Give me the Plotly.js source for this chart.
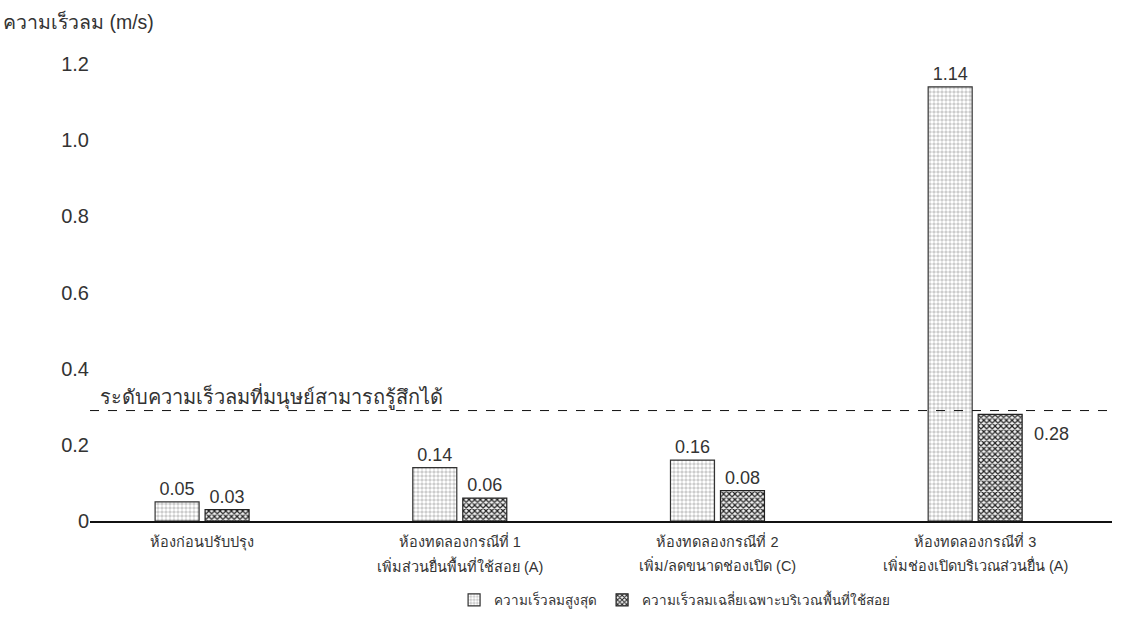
<!DOCTYPE html>
<html>
<head>
<meta charset="utf-8">
<script src="https://cdn.plot.ly/plotly-3.0.1.min.js"></script>
<style>html,body{margin:0;padding:0;background:#fff;}#chart{width:1124px;height:631px;}</style>
</head>
<body>
<div id="chart"></div>
<script>
const categoryLine1 = [
  "ห้องก่อนปรับปรุง",
  "ห้องทดลองกรณีที่ 1",
  "ห้องทดลองกรณีที่ 2",
  "ห้องทดลองกรณีที่ 3"
];
const categoryLine2 = [
  "",
  "เพิ่มส่วนยื่นพื้นที่ใช้สอย (A)",
  "เพิ่ม/ลดขนาดช่องเปิด (C)",
  "เพิ่มช่องเปิดบริเวณส่วนยื่น (A)"
];
const maxSpeed = [0.05, 0.14, 0.16, 1.14];
const avgSpeed = [0.03, 0.06, 0.08, 0.28];
const seriesNames = ["ความเร็วลมสูงสุด", "ความเร็วลมเฉลี่ยเฉพาะบริเวณพื้นที่ใช้สอย"];
const thresholdValue = 0.29;
const thresholdLabel = "ระดับความเร็วลมที่มนุษย์สามารถรู้สึกได้";
const yTickVals = [0, 0.2, 0.4, 0.6, 0.8, 1.0, 1.2];
const yTickText = ["0", "0.2", "0.4", "0.6", "0.8", "1.0", "1.2"];
const yTitle = "ความเร็วลม (m/s)";

const FONT = "Liberation Sans, Arial, Noto Sans, sans-serif";
const idx = categoryLine1.map((c, i) => i);

const trace1 = {
  type: "bar", name: seriesNames[0], x: idx, y: maxSpeed,
  text: maxSpeed.map(v => v.toFixed(2)), textposition: "outside",
  textfont: {size: 18, color: "#333", family: FONT}, cliponaxis: false,
  marker: {color: "#dcdcdc", line: {color: "#333", width: 1.2},
    pattern: {shape: ".", fgcolor: "#ffffff", bgcolor: "#c8c8c8", size: 4, solidity: 0.6}}
};
const trace2 = {
  type: "bar", name: seriesNames[1], x: idx, y: avgSpeed,
  text: avgSpeed.map((v, i) => i === avgSpeed.length - 1 ? "" : v.toFixed(2)), textposition: "outside",
  textfont: {size: 18, color: "#333", family: FONT}, cliponaxis: false,
  marker: {color: "#555", line: {color: "#222", width: 1.2},
    pattern: {shape: "x", fgcolor: "#222", bgcolor: "#f2f2f2", size: 4, solidity: 0.5}}
};
const last = avgSpeed.length - 1;

const annotations = [
  {xref: "paper", yref: "y", x: 0.008, y: thresholdValue, xanchor: "left", yanchor: "bottom", yshift: -1,
    text: thresholdLabel, showarrow: false, font: {size: 20, color: "#333", family: FONT}},
  {xref: "x", yref: "y", x: last, y: avgSpeed[last], xshift: 76, yshift: -20, xanchor: "center",
    text: avgSpeed[last].toFixed(2), showarrow: false, font: {size: 18, color: "#333", family: FONT}},
  {xref: "paper", yref: "paper", x: -0.087, y: 1.094, xanchor: "left", yanchor: "middle",
    text: yTitle, showarrow: false, font: {size: 19.5, color: "#333", family: FONT}}
];
categoryLine2.forEach((t, i) => {
  if (t) annotations.push({xref: "x", yref: "paper", x: i, y: -0.097, xanchor: "center", yanchor: "middle",
    text: t, showarrow: false, font: {size: 14.5, color: "#333", family: FONT}});
});

const layout = {
  width: 1124, height: 631,
  margin: {l: 90, r: 12, t: 64, b: 110},
  paper_bgcolor: "#fff", plot_bgcolor: "#fff",
  font: {family: FONT, color: "#333"},
  barmode: "group", bargap: 0.612, bargroupgap: 0.12,
  showlegend: true,
  legend: {orientation: "h", x: 0.572, xanchor: "center", y: -0.173, yanchor: "middle",
    font: {size: 13.5, color: "#333", family: FONT}, itemwidth: 30, traceorder: "normal"},
  xaxis: {
    range: [-0.435, 3.531], tickmode: "array", tickvals: idx, ticktext: categoryLine1,
    showline: true, linecolor: "#111", linewidth: 1.5, ticks: "", showgrid: false, zeroline: false,
    tickfont: {size: 14.5, color: "#333", family: FONT}, ticklabelstandoff: 7,
    fixedrange: true, automargin: false
  },
  yaxis: {
    range: [0, 1.2], tickmode: "array", tickvals: yTickVals, ticktext: yTickText,
    showline: false, showgrid: false, zeroline: false, ticks: "", automargin: false,
    tickfont: {size: 20, color: "#333", family: FONT}
  },
  shapes: [{type: "line", xref: "paper", x0: 0, x1: 1, yref: "y", y0: thresholdValue, y1: thresholdValue,
    line: {color: "#111", width: 1, dash: "dash"}}],
  annotations: annotations
};
Plotly.newPlot("chart", [trace1, trace2], layout, {displayModeBar: false, staticPlot: true});
</script>
</body>
</html>
